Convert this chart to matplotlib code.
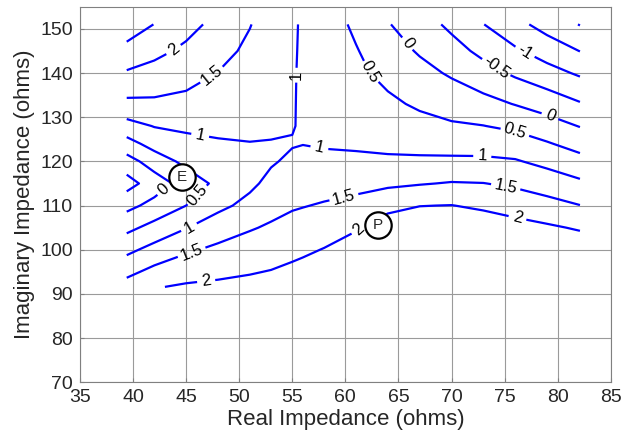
import numpy as np
import matplotlib.pyplot as plt

plt.rcParams['font.family'] = ['Liberation Sans', 'DejaVu Sans']

# grid of the swept load: real part (columns) and imaginary part (rows)
real_ohms = [39.4, 42, 45, 48, 51, 53, 55, 56, 58, 61, 64, 67, 70, 73, 76, 79, 82.1]
imag_ohms = [91.6, 95, 100, 105, 110, 115, 120, 124, 128, 133, 140, 145, 151]

# surface value for each real-impedance column, bottom row first
r39 = [1.70, 1.37, 0.88, 0.37, -0.14, -0.70, -0.20, 0.31, 0.82, 1.39, 1.95, 2.34, 2.80]
r42 = [1.97, 1.64, 1.16, 0.66, 0.15, -0.25, 0.23, 0.69, 1.02, 1.41, 1.83, 2.13, 2.49]
r45 = [2.06, 1.81, 1.43, 0.98, 0.50, 0.20, 0.63, 0.86, 1.09, 1.36, 1.69, 1.90, 2.17]
r48 = [2.10, 1.89, 1.60, 1.26, 0.88, 0.62, 0.81, 0.96, 1.09, 1.26, 1.49, 1.66, 1.85]
r51 = [2.13, 1.97, 1.72, 1.46, 1.14, 0.90, 0.85, 0.99, 1.08, 1.17, 1.31, 1.40, 1.52]
r53 = [2.17, 2.02, 1.79, 1.56, 1.34, 1.13, 0.95, 0.985, 1.05, 1.12, 1.18, 1.22, 1.27]
r55 = [2.25, 2.10, 1.88, 1.66, 1.45, 1.27, 1.09, 0.97, 1.03, 1.04, 1.05, 1.06, 1.07]
r56 = [2.30, 2.15, 1.92, 1.70, 1.48, 1.30, 1.13, 0.99, 0.93, 0.92, 0.92, 0.93, 0.94]
r58 = [2.42, 2.26, 2.02, 1.78, 1.54, 1.32, 1.10, 0.96, 0.90, 0.87, 0.82, 0.79, 0.75]
r61 = [2.35, 2.30, 2.20, 1.96, 1.65, 1.35, 1.07, 0.95, 0.83, 0.72, 0.60, 0.53, 0.41]
r64 = [2.40, 2.38, 2.35, 2.25, 1.86, 1.41, 1.07, 0.90, 0.76, 0.59, 0.37, 0.22, 0.03]
r67 = [2.40, 2.40, 2.38, 2.30, 1.99, 1.47, 1.08, 0.85, 0.65, 0.43, 0.15, -0.05, -0.27]
r70 = [2.40, 2.40, 2.38, 2.30, 2.01, 1.53, 1.09, 0.81, 0.56, 0.29, -0.06, -0.31, -0.61]
r73 = [2.35, 2.35, 2.32, 2.28, 1.92, 1.51, 1.09, 0.79, 0.51, 0.16, -0.31, -0.63, -0.99]
r76 = [2.30, 2.30, 2.28, 2.17, 1.80, 1.42, 1.04, 0.73, 0.40, -0.02, -0.58, -0.93, -1.35]
r79 = [2.25, 2.25, 2.22, 2.07, 1.67, 1.27, 0.87, 0.54, 0.21, -0.21, -0.82, -1.22, -1.69]
r82 = [2.35, 2.35, 2.30, 1.95, 1.51, 1.09, 0.66, 0.32, -0.02, -0.46, -1.07, -1.51, -2.02]

labelled = [-1, -0.5, 0, 0.5, 1, 1.5, 2]
unlabelled = [-2, -1.5, 2.5]

# named operating points
point_names = ['E', 'P']
point_real = [44.6, 63.1]
point_imag = [116.5, 105.7]

Z = np.column_stack([r39, r42, r45, r48, r51, r53, r55, r56, r58,
                     r61, r64, r67, r70, r73, r76, r79, r82])
X, Y = np.meshgrid(real_ohms, imag_ohms)

fig = plt.figure(figsize=(6.34, 4.40), dpi=100)
ax = fig.add_axes([0.1262, 0.1311, 0.8371, 0.8536])

line_kw = dict(colors='blue', linewidths=1.6, linestyles='solid', zorder=3)
cs = ax.contour(X, Y, Z, levels=labelled, **line_kw)
ax.contour(X, Y, Z, levels=unlabelled, **line_kw)

# where the labels sit along the lines
label_spots = [(43.9, 145.1), (47.6, 139.1), (46.3, 125.7), (55.5, 139.5),
               (62.3, 140.2), (65.8, 146.6), (74.1, 141.0), (76.8, 144.4),
               (79.2, 129.9), (76.0, 126.8), (72.9, 121.1), (57.5, 122.6),
               (75.1, 114.2), (76.2, 107.1), (59.9, 111.6), (61.3, 104.6),
               (46.1, 112.3), (43.0, 113.4), (45.3, 105.0), (45.5, 99.5),
               (46.9, 92.7)]
ax.clabel(cs, manual=label_spots, inline=True, inline_spacing=6,
          fmt='%g', fontsize=12, colors='black')

for name, xr, yi in zip(point_names, point_real, point_imag):
    ax.plot(xr, yi, 'o', ms=19, mfc='white', mec='black', mew=1.6, zorder=5)
    ax.text(xr, yi, name, ha='center', va='center', fontsize=11,
            color='#262626', zorder=6)

ax.set_xlim(35, 85)
ax.set_ylim(70, 155)
ax.set_xticks(np.arange(35, 86, 5))
ax.set_yticks(np.arange(70, 151, 10))
ax.grid(True, color='#9a9a9a', linewidth=0.8)
ax.set_axisbelow(True)
ax.tick_params(direction='in', length=3, color='#808080', labelsize=14,
               labelcolor='#262626', pad=5)
for s in ax.spines.values():
    s.set_color('#808080')
    s.set_linewidth(0.8)

ax.set_xlabel('Real Impedance (ohms)', fontsize=16, color='#262626', labelpad=2)
ax.set_ylabel('Imaginary Impedance (ohms)', fontsize=16, color='#262626', labelpad=4)

fig.savefig('out.png', dpi=100)
